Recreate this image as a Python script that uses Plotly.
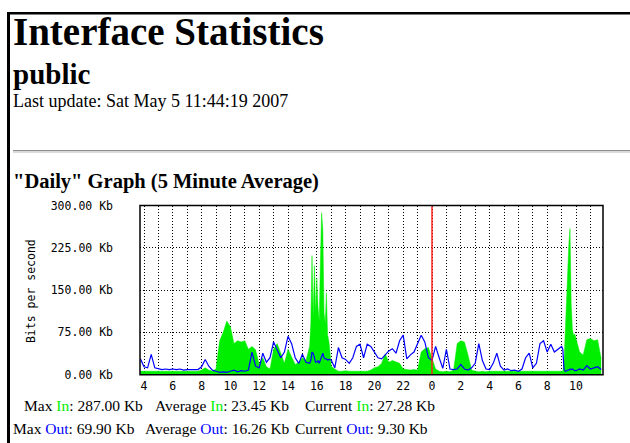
import plotly.graph_objects as go

# ---------------- data ----------------
# sample times in hours (hours >= 24 are the next day); 15-minute samples,
# with 5-minute samples around the two tall bursts
def seg(start, stop, step):
    n = int(round((stop - start) / step))
    return [round(start + i * step, 4) for i in range(n + 1)]

hours = (seg(3.75, 15.25, 0.25) + seg(15.5, 17.0, 1 / 12) + seg(17.25, 32.75, 0.25)
         + seg(33.0, 34.0, 1 / 12) + seg(34.25, 35.75, 0.25))

traffic_in = [
    # 3.75 - 15.25 (15 min)
    6, 6, 5, 6, 5, 6, 5, 6, 5, 5, 6, 5, 6, 5, 6, 5, 6, 8, 12, 8,
    6, 10, 60, 75, 95, 85, 55, 60, 58, 60, 45, 50, 44, 18, 30, 14,
    10, 45, 55, 38, 20, 45, 30, 18, 22, 30, 25,
    # 15.50 - 17.00 (5 min)
    50, 90, 211, 100, 193, 110, 171, 120, 95, 200, 287, 259, 110, 90, 145, 70, 60, 40, 15,
    # 17.25 - 32.75 (15 min)
    10, 6, 6, 7, 6, 6, 7, 6, 6, 6, 8, 12, 14, 20, 37, 22, 25, 23, 20, 10,
    9, 8, 9, 8, 40, 46, 48, 30, 10, 6, 5, 6, 5, 8, 55, 60, 58, 35, 8, 6,
    5, 6, 5, 6, 6, 5, 6, 5, 6, 5, 5, 6, 5, 6, 6, 5, 5, 5, 5, 5, 5, 5, 5,
    # 33.00 - 34.00 (5 min)
    5, 6, 20, 75, 143, 193, 230, 259, 125, 80, 70, 72, 65,
    # 34.25 - 35.75 (15 min)
    40, 35, 62, 64, 60, 62, 28,
]

traffic_out = [
    # 3.75 - 15.25
    28, 14, 12, 36, 12, 10, 9, 10, 9, 10, 9, 10, 8, 9, 9, 8, 9, 14, 27, 15,
    8, 6, 4, 5, 4, 6, 8, 5, 7, 6, 8, 40, 15, 12, 38, 22,
    30, 58, 45, 30, 40, 68, 55, 30, 20, 36, 22,
    # 15.50 - 17.00
    20, 25, 40, 38, 30, 22, 22, 25, 20, 25, 30, 38, 30, 28, 28, 26, 27, 26, 26,
    # 17.25 - 32.75
    12, 48, 30, 27, 20, 30, 50, 54, 30, 54, 50, 40, 30, 28, 35, 42, 46, 38, 60, 70,
    28, 35, 40, 55, 70, 58, 30, 25, 50, 30, 11, 45, 10, 9, 10, 18, 10, 8, 12, 20,
    55, 25, 10, 9, 20, 38, 15, 8, 10, 7, 8, 6, 10, 30, 38, 12, 20, 55, 60, 40, 54, 40, 45,
    # 33.00 - 34.00
    50, 45, 10, 6, 6, 8, 8, 10, 9, 10, 8, 7, 7,
    # 34.25 - 35.75
    10, 8, 16, 10, 12, 14, 9,
]

tick_hours = list(range(4, 36))
tick_labels = [str(h % 24) if h % 2 == 0 else "" for h in tick_hours]
y_ticks = [0, 75, 150, 225, 300]
y_labels = ["0.00 Kb", "75.00 Kb", "150.00 Kb", "225.00 Kb", "300.00 Kb"]
midnight = 24

title = "Interface Statistics"
subtitle = "public"
last_update = "Last update: Sat May 5 11:44:19 2007"
graph_title = '"Daily" Graph (5 Minute Average)'
y_title = "Bits per second"

# ---------------- layout helpers ----------------
W, H = 630, 443
# the captured picture is slightly squeezed vertically; map wanted picture rows to page rows
def row(t):
    return (t - 7.8) / 0.962
def px(x):
    return x / W
def py(t):
    return 1 - row(t) / H

IN_C = "#00ee00"
OUT_C = "#0000ff"
MONO = "DejaVu Sans Mono"
SERIF = "Liberation Serif, Times New Roman, serif"

fig = go.Figure()
fig.add_trace(go.Scatter(x=hours, y=traffic_in, mode="lines", fill="tozeroy",
                         fillcolor=IN_C, line=dict(color=IN_C, width=0.5),
                         hoverinfo="skip", showlegend=False))
fig.add_trace(go.Scatter(x=hours, y=traffic_out, mode="lines",
                         line=dict(color=OUT_C, width=1.2),
                         hoverinfo="skip", showlegend=False))

fig.update_layout(
    width=W, height=H,
    margin=dict(l=0, r=0, t=0, b=0),
    paper_bgcolor="white", plot_bgcolor="white",
    showlegend=False,
    xaxis=dict(domain=[px(140), px(603)], range=[3.722, 35.875],
               tickvals=tick_hours, ticktext=tick_labels,
               showgrid=True, gridcolor="#000000", gridwidth=1, griddash="1px,2px",
               zeroline=False, showline=False, ticks="",
               ticklabelstandoff=3,
               tickfont=dict(family=MONO, size=11.5, color="#000")),
    yaxis=dict(domain=[py(373), py(205)], range=[0, 300],
               tickvals=y_ticks, ticktext=y_labels,
               showgrid=True, gridcolor="#000000", gridwidth=1, griddash="1px,2px",
               zeroline=False, showline=False, ticks="",
               ticklabelstandoff=26,
               tickfont=dict(family=MONO, size=11.5, color="#000")),
)

shapes = [
    # page frame (top and left)
    dict(type="line", xref="paper", yref="paper", x0=px(7), x1=px(640), y0=py(14), y1=py(14),
         line=dict(color="black", width=2.6)),
    dict(type="line", xref="paper", yref="paper", x0=px(8.5), x1=px(8.5), y0=py(12.7), y1=py(460),
         line=dict(color="black", width=3)),
    # horizontal rule
    dict(type="line", xref="paper", yref="paper", x0=px(13), x1=px(640), y0=py(150.5), y1=py(150.5),
         line=dict(color="#8c8c8c", width=1.2)),
    dict(type="line", xref="paper", yref="paper", x0=px(13), x1=px(640), y0=py(152), y1=py(152),
         line=dict(color="#cfcfcf", width=1.2)),
    # midnight marker
    dict(type="line", xref="x", yref="y domain", x0=midnight, x1=midnight, y0=0, y1=1,
         line=dict(color="#ff2020", width=1.5), layer="above"),
    # plot border
    dict(type="rect", xref="x domain", yref="y domain", x0=0, x1=1, y0=0, y1=1,
         line=dict(color="black", width=1.5), layer="above"),
]
fig.update_layout(shapes=shapes)

def note(x, y, text, size, bold=False, family=SERIF, **kw):
    t = f"<b>{text}</b>" if bold else text
    fig.add_annotation(xref="paper", yref="paper", x=px(x), y=py(y), text=t,
                       showarrow=False, xanchor="left", yanchor="middle",
                       font=dict(family=family, size=size, color="black"), **kw)

note(11, 32, title, 39, bold=True)
note(11, 74.5, subtitle, 29, bold=True)
note(11, 101, last_update, 18)
note(11, 181, graph_title, 20.5, bold=True)

fig.add_annotation(xref="paper", yref="paper", x=px(31), y=py(290), text=y_title,
                   showarrow=False, textangle=-90, xanchor="center", yanchor="middle",
                   font=dict(family=MONO, size=11.5, color="#000"))

g = lambda s: f'<span style="color:{IN_C}">{s}</span>'
b = lambda s: f'<span style="color:{OUT_C}">{s}</span>'
FS = 15.5
note(22, 404, f"Max {g('In')}: 287.00 Kb", FS)
note(153, 404, f"Average {g('In')}: 23.45 Kb", FS)
note(303, 404, f"Current {g('In')}: 27.28 Kb", FS)
note(11, 427, f"Max {b('Out')}: 69.90 Kb", FS)
note(143, 427, f"Average {b('Out')}: 16.26 Kb", FS)
note(293, 427, f"Current {b('Out')}: 9.30 Kb", FS)

# pin the figure to the top-left corner of the page (no body margin)
pin = ("var gd=document.getElementById('{plot_id}');"
       "document.body.style.margin='0';"
       "document.documentElement.style.overflow='hidden';"
       "gd.style.position='fixed';gd.style.left='0px';gd.style.top='0px';")

fig.write_html("out.html", post_script=pin, config={"displayModeBar": False})
